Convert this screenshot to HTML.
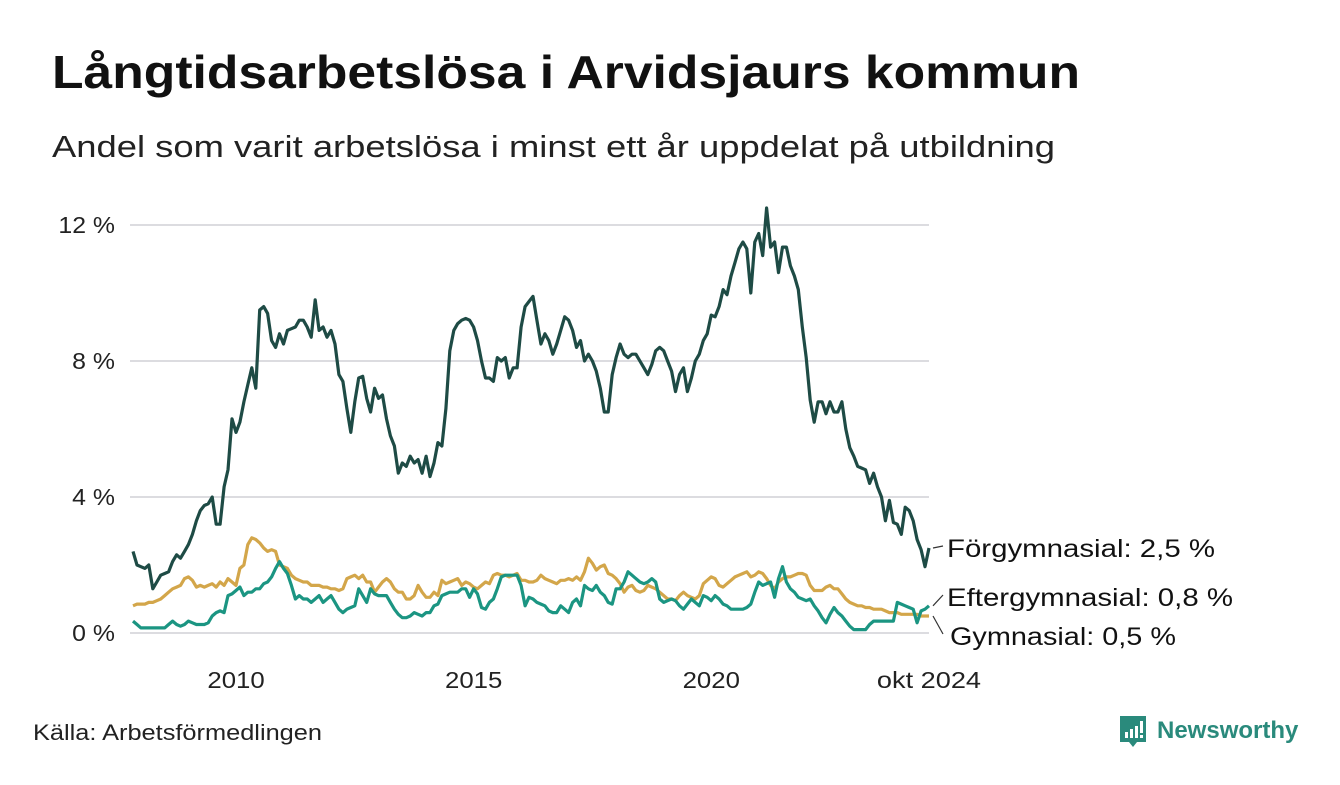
<!DOCTYPE html>
<html><head><meta charset="utf-8">
<style>
body{margin:0;background:#fff;width:1340px;height:780px;overflow:hidden;font-family:"Liberation Sans",sans-serif;}
svg text{font-family:"Liberation Sans",sans-serif;}
</style></head>
<body>
<svg id="chart" width="1340" height="780" xmlns="http://www.w3.org/2000/svg">
<text x="52" y="88" font-size="46" font-weight="bold" fill="#111" textLength="1028" lengthAdjust="spacingAndGlyphs">Långtidsarbetslösa i Arvidsjaurs kommun</text>
<text x="52" y="157" font-size="31" fill="#222" textLength="1003" lengthAdjust="spacingAndGlyphs">Andel som varit arbetslösa i minst ett år uppdelat på utbildning</text>
<g id="grid"></g>
<g id="yaxis"></g>
<g id="xaxis"></g>
<g id="lines"></g>
<g id="labels"></g>
<text x="33" y="740" font-size="22" fill="#222" textLength="289" lengthAdjust="spacingAndGlyphs">Källa: Arbetsförmedlingen</text>
<g>
<path d="M1120 716 h26 v26 h-9 l-4 5 l-4 -5 h-9 z" fill="#2a8a7c"/>
<rect x="1125" y="732" width="3" height="6" fill="#fff"/><rect x="1130" y="729" width="3" height="9" fill="#fff"/><rect x="1135" y="726" width="3" height="12" fill="#fff"/><rect x="1140" y="721" width="3" height="12" fill="#fff"/><rect x="1140" y="735" width="3" height="3" fill="#fff"/>
<text x="1157" y="738" font-size="24" font-weight="bold" fill="#2a8a7c">Newsworthy</text>
</g>
</svg>
<script>
const yTicks = [0, 4, 8, 12];
const yTickLabels = ["0 %", "4 %", "8 %", "12 %"];
const xTickYears = [2010, 2015, 2020];
const xTickLabels = ["2010", "2015", "2020", "okt 2024"];
const startYear = 2008;
const forgymnasial = [
2.4,2.0,1.95,1.9,2.0,1.3,1.5,1.7,1.75,1.8,2.1,2.3,
2.2,2.4,2.6,2.9,3.3,3.6,3.75,3.8,4.0,3.2,3.2,4.3,
4.8,6.3,5.9,6.2,6.8,7.3,7.8,7.2,9.5,9.6,9.4,8.6,
8.4,8.8,8.5,8.9,8.95,9.0,9.2,9.2,9.0,8.7,9.8,8.9,
9.0,8.7,8.9,8.5,7.6,7.4,6.6,5.9,6.8,7.5,7.55,6.9,
6.5,7.2,6.9,7.0,6.3,5.8,5.5,4.7,5.0,4.9,5.2,5.0,
5.1,4.7,5.2,4.6,5.0,5.6,5.5,6.6,8.3,8.9,9.1,9.2,
9.25,9.2,9.0,8.6,8.0,7.5,7.5,7.4,8.1,8.0,8.1,7.5,
7.8,7.8,9.0,9.6,9.75,9.9,9.2,8.5,8.8,8.6,8.2,8.5,
8.9,9.3,9.2,8.9,8.4,8.6,8.0,8.2,8.0,7.7,7.2,6.5,
6.5,7.6,8.1,8.5,8.2,8.1,8.2,8.2,8.0,7.8,7.6,7.9,
8.3,8.4,8.3,8.0,7.7,7.1,7.6,7.8,7.1,7.5,8.0,8.2,
8.6,8.8,9.35,9.3,9.6,10.1,9.95,10.5,10.9,11.3,11.5,11.3,
10.0,11.5,11.75,11.1,12.5,11.35,11.5,10.6,11.35,11.35,10.8,10.5,
10.1,9.0,8.1,6.85,6.2,6.8,6.8,6.45,6.8,6.5,6.5,6.8,
6.0,5.45,5.2,4.9,4.85,4.8,4.4,4.7,4.3,4.0,3.3,3.9,
3.25,3.2,2.9,3.7,3.6,3.3,2.75,2.45,1.95,2.5];
const gymnasial = [
0.8,0.85,0.85,0.85,0.9,0.9,0.95,1.0,1.1,1.2,1.3,1.35,
1.4,1.6,1.65,1.55,1.35,1.4,1.35,1.4,1.45,1.35,1.5,1.4,
1.6,1.5,1.4,1.9,2.0,2.6,2.8,2.75,2.65,2.5,2.4,2.45,
2.4,2.0,1.95,1.9,1.7,1.6,1.55,1.5,1.5,1.4,1.4,1.4,
1.35,1.35,1.3,1.3,1.25,1.3,1.6,1.65,1.7,1.6,1.7,1.5,
1.5,1.2,1.35,1.5,1.6,1.5,1.3,1.2,1.2,1.0,1.0,1.1,
1.4,1.2,1.05,1.05,1.2,1.1,1.55,1.45,1.5,1.55,1.6,1.4,
1.5,1.45,1.35,1.3,1.4,1.5,1.45,1.7,1.75,1.7,1.7,1.65,
1.7,1.75,1.55,1.55,1.5,1.5,1.55,1.7,1.6,1.55,1.5,1.45,
1.55,1.55,1.6,1.55,1.65,1.55,1.8,2.2,2.05,1.85,1.95,2.0,
1.75,1.7,1.6,1.45,1.2,1.35,1.4,1.25,1.2,1.25,1.4,1.35,
1.3,1.2,1.1,1.0,1.0,0.95,1.1,1.2,1.1,1.05,1.0,1.1,
1.45,1.55,1.65,1.6,1.4,1.35,1.45,1.55,1.65,1.7,1.75,1.8,
1.65,1.7,1.8,1.75,1.6,1.4,1.3,1.5,1.6,1.65,1.65,1.7,
1.75,1.75,1.7,1.4,1.25,1.25,1.25,1.35,1.4,1.3,1.3,1.15,
1.0,0.9,0.85,0.8,0.8,0.75,0.75,0.7,0.7,0.7,0.65,0.6,
0.6,0.6,0.55,0.55,0.55,0.55,0.55,0.5,0.5,0.5];
const eftergymnasial = [
0.35,0.25,0.15,0.15,0.15,0.15,0.15,0.15,0.15,0.25,0.35,0.25,
0.2,0.25,0.35,0.3,0.25,0.25,0.25,0.3,0.5,0.6,0.65,0.6,
1.1,1.15,1.25,1.35,1.1,1.2,1.2,1.3,1.3,1.45,1.5,1.65,
1.9,2.1,1.9,1.75,1.4,1.0,1.1,1.0,1.0,0.9,1.0,1.1,
0.9,1.0,1.1,0.9,0.7,0.6,0.7,0.75,0.8,1.3,1.1,0.9,
1.3,1.15,1.1,1.1,1.1,0.9,0.7,0.55,0.45,0.45,0.5,0.6,
0.55,0.5,0.6,0.6,0.8,0.85,1.1,1.15,1.2,1.2,1.2,1.3,
1.3,1.05,1.3,1.15,0.75,0.7,0.9,1.0,1.3,1.65,1.7,1.7,
1.7,1.7,1.4,0.8,1.05,1.0,0.9,0.85,0.8,0.65,0.6,0.6,
0.8,0.7,0.6,0.9,1.0,0.8,1.4,1.3,1.25,1.4,1.2,1.1,
0.9,0.85,1.3,1.3,1.5,1.8,1.7,1.6,1.5,1.45,1.5,1.6,
1.5,1.0,0.9,0.95,1.0,0.95,0.8,0.7,0.85,1.0,0.9,0.8,
1.1,1.05,0.95,1.1,1.0,0.85,0.8,0.7,0.7,0.7,0.7,0.75,
0.85,1.2,1.5,1.4,1.45,1.5,1.05,1.6,1.95,1.5,1.3,1.2,
1.05,1.0,0.95,1.0,0.8,0.65,0.45,0.3,0.55,0.75,0.6,0.5,
0.35,0.2,0.1,0.1,0.1,0.1,0.25,0.35,0.35,0.35,0.35,0.35,
0.35,0.9,0.85,0.8,0.75,0.7,0.3,0.65,0.7,0.8];
const seriesNames = ["Förgymnasial: 2,5 %", "Eftergymnasial: 0,8 %", "Gymnasial: 0,5 %"];

const NS = "http://www.w3.org/2000/svg";
const X0 = 133, X1 = 929, Y0 = 633, PXPCT = 34;
const nMonths = forgymnasial.length;
function xScale(i){ return X0 + i * (X1 - X0) / (nMonths - 1); }
function yScale(v){ return Y0 - v * PXPCT; }
function mk(tag, attrs, parent){ const e = document.createElementNS(NS, tag); for (const k in attrs) e.setAttribute(k, attrs[k]); parent.appendChild(e); return e; }
function stretch(t, f){ const w = t.getComputedTextLength(); t.setAttribute('textLength', (w * f).toFixed(1)); t.setAttribute('lengthAdjust', 'spacingAndGlyphs'); }

const grid = document.getElementById('grid'), yaxis = document.getElementById('yaxis'), xaxis = document.getElementById('xaxis');
yTicks.forEach((t, i) => {
  const l = mk('line', {x1:130, x2:929, y1:yScale(t), y2:yScale(t), stroke:'#dcdce0', 'stroke-width':2}, grid);
  
  
  const tx = mk('text', {x:115, y:yScale(t)+8, 'text-anchor':'end', 'font-size':23, fill:'#222'}, yaxis);
  tx.textContent = yTickLabels[i];
  
  
  stretch(tx, 1.08);
});
xTickYears.forEach((yr, i) => {
  const tx = mk('text', {x:xScale((yr - startYear) * 12) + 8, y:688, 'text-anchor':'middle', 'font-size':23, fill:'#222'}, xaxis);
  tx.textContent = xTickLabels[i];
  
  
  stretch(tx, 1.12);
});
const last = mk('text', {x:X1, y:688, 'text-anchor':'middle', 'font-size':23, fill:'#222'}, xaxis);
last.textContent = xTickLabels[3];


stretch(last, 1.18);

const lines = document.getElementById('lines');
function drawLine(arr, color, name){
  const d = arr.map((v, i) => (i ? 'L' : 'M') + xScale(i).toFixed(1) + ' ' + yScale(v).toFixed(1)).join(' ');
  const p = mk('path', {d:d, fill:'none', stroke:color, 'stroke-width':3.2, 'stroke-linejoin':'round'}, lines);
  
  
}
drawLine(gymnasial, '#d3a64a', 'line-gymnasial');
drawLine(eftergymnasial, '#1b9582', 'line-eftergymnasial');
drawLine(forgymnasial, '#1e4b45', 'line-forgymnasial');

const labels = document.getElementById('labels');
const labY = [548, 597, 636];
const labW = [268, 286, 226];
const endVals = [forgymnasial[nMonths-1], eftergymnasial[nMonths-1], gymnasial[nMonths-1]];
labY.forEach((ly, i) => {
  const ln = mk('line', {x1:933, y1:yScale(endVals[i]), x2:943, y2:ly - 2, stroke:'#333', 'stroke-width':1.2}, labels);
  
  
  const t = mk('text', {x:i === 2 ? 950 : 947, y:ly + 9, 'font-size':25, fill:'#111', textLength:labW[i], lengthAdjust:'spacingAndGlyphs'}, labels);
  t.textContent = seriesNames[i];
  
  
});
</script>
</body></html>
